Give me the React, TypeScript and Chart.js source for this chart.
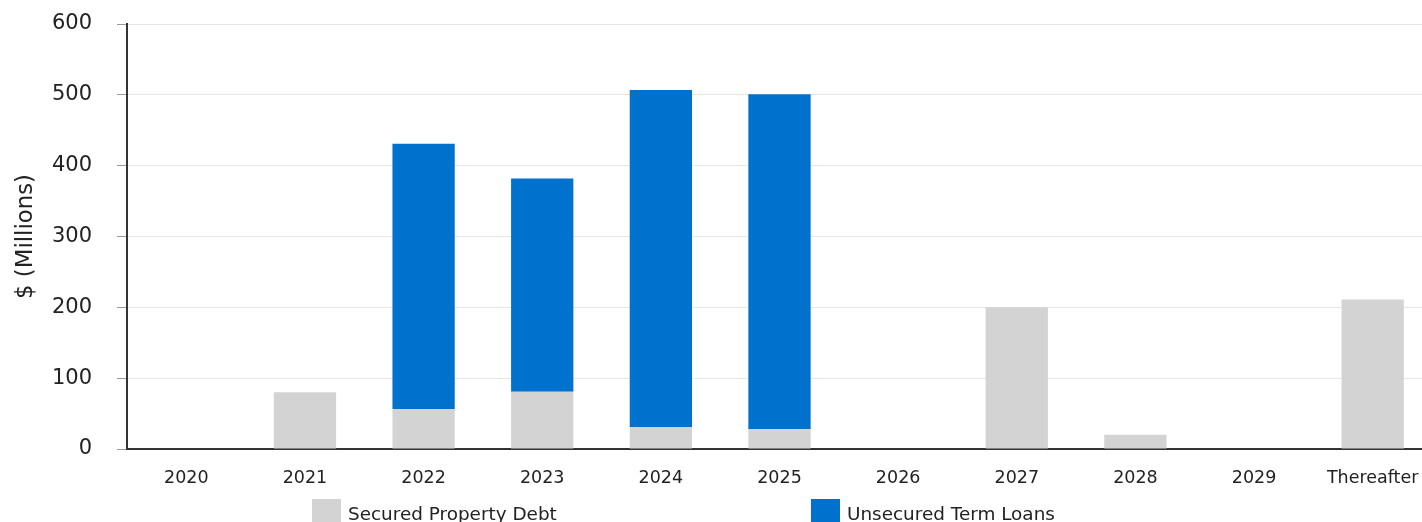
import React, { useEffect, useRef } from 'react';
import { Chart, registerables } from 'chart.js';

Chart.register(...registerables);

const categories = ['2020', '2021', '2022', '2023', '2024', '2025', '2026', '2027', '2028', '2029', 'Thereafter'];
const securedPropertyDebt = [0, 80, 56, 81, 31, 28, 0, 200, 20, 0, 211];
const unsecuredTermLoans = [0, 0, 375, 301, 476, 473, 0, 0, 0, 0, 0];
const yTickValues = [0, 100, 200, 300, 400, 500, 600];
const seriesNames = ['Secured Property Debt', 'Unsecured Term Loans'];
const seriesColors = ['#d3d3d3', '#0072ce'];

const FONT = '"DejaVu Sans", Verdana, sans-serif';

export default function App() {
  const canvasRef = useRef<HTMLCanvasElement | null>(null);

  useEffect(() => {
    const canvas = canvasRef.current;
    if (!canvas) return;
    const chart = new Chart(canvas, {
      type: 'bar',
      data: {
        labels: categories,
        datasets: [
          {
            label: seriesNames[0],
            data: securedPropertyDebt,
            backgroundColor: seriesColors[0],
            borderWidth: 0,
            barPercentage: 0.525,
            categoryPercentage: 1,
          },
          {
            label: seriesNames[1],
            data: unsecuredTermLoans,
            backgroundColor: seriesColors[1],
            borderWidth: 0,
            barPercentage: 0.525,
            categoryPercentage: 1,
          },
        ],
      },
      options: {
        responsive: false,
        animation: false,
        devicePixelRatio: 1,
        layout: { padding: { top: 24, right: 8, left: 0, bottom: 0 } },
        plugins: {
          legend: { display: false },
          tooltip: { enabled: false },
        },
        scales: {
          x: {
            stacked: true,
            grid: { display: false, drawTicks: false },
            border: { display: true, color: '#333333', width: 2 },
            ticks: {
              font: { family: FONT, size: 17.5 },
              color: '#222222',
              padding: 19,
              maxRotation: 0,
              autoSkip: false,
            },
            afterFit: (scale: any) => {
              scale.height = 73;
              scale.paddingLeft = 0;
              scale.paddingRight = 0;
            },
          },
          y: {
            stacked: true,
            min: 0,
            max: 600,
            afterBuildTicks: (scale: any) => {
              scale.ticks = yTickValues.map((v) => ({ value: v }));
            },
            grid: { color: '#e6e6e6', tickLength: 10, tickColor: '#999999' },
            border: { display: true, color: '#333333', width: 2 },
            ticks: {
              font: { family: FONT, size: 21 },
              color: '#222222',
              padding: 25,
            },
            title: {
              display: true,
              text: '$ (Millions)',
              font: { family: FONT, size: 22.8 },
              color: '#222222',
              padding: { top: 12, bottom: 0 },
            },
            afterFit: (scale: any) => {
              scale.width = 127;
              scale.paddingTop = 0;
              scale.paddingBottom = 0;
            },
          },
        },
      },
    });
    return () => chart.destroy();
  }, []);

  const legendItems = [
    { name: seriesNames[0], color: seriesColors[0], left: 312 },
    { name: seriesNames[1], color: seriesColors[1], left: 811 },
  ];

  return (
    <div
      style={{
        position: 'absolute',
        left: 0,
        top: 0,
        width: 1422,
        height: 522,
        overflow: 'hidden',
        background: '#ffffff',
      }}
    >
      <canvas ref={canvasRef} width={1440} height={522} style={{ display: 'block', width: 1440, height: 522 }} />
      {legendItems.map((it) => (
        <div key={it.name}>
          <div
            style={{
              position: 'absolute',
              left: it.left,
              top: 499,
              width: 29,
              height: 26,
              background: it.color,
            }}
          />
          <div
            style={{
              position: 'absolute',
              left: it.left + 36,
              top: 505,
              fontFamily: FONT,
              fontSize: 18.4,
              lineHeight: '18px',
              color: '#222222',
              whiteSpace: 'nowrap',
            }}
          >
            {it.name}
          </div>
        </div>
      ))}
    </div>
  );
}
